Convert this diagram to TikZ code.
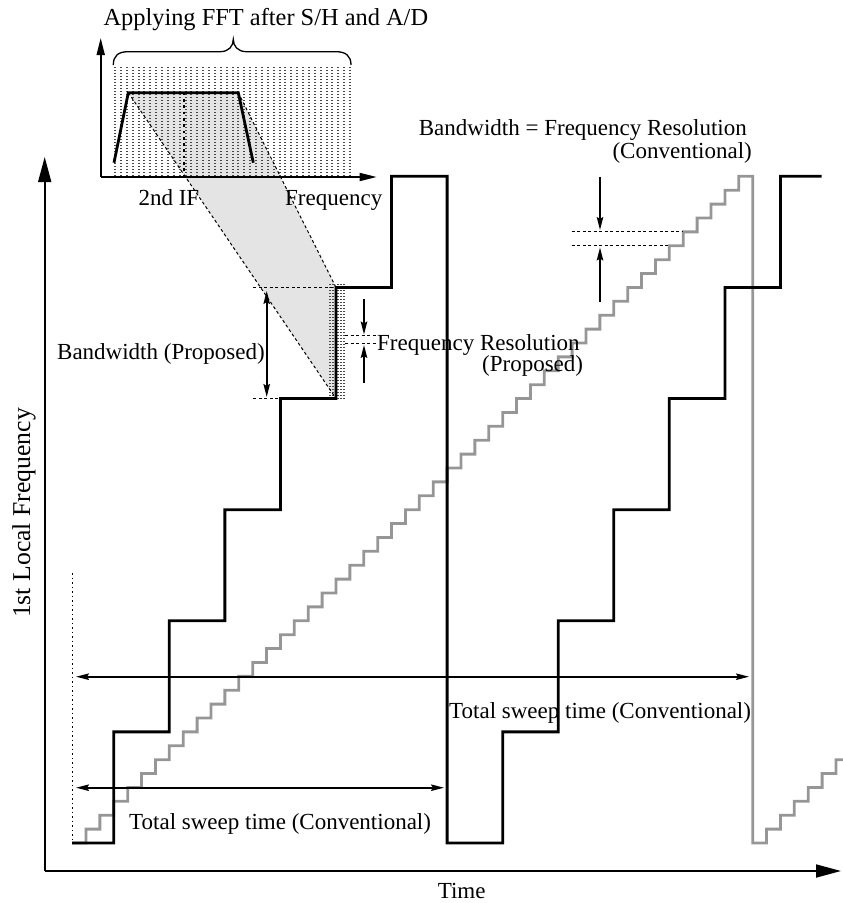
\documentclass[tikz,border=0pt]{standalone}
\usepackage{fontspec}
\setmainfont{Liberation Serif}
\usetikzlibrary{arrows.meta}
\definecolor{stairgray}{RGB}{150,150,150}
\definecolor{shadegray}{RGB}{228,228,228}
\begin{document}
\begin{tikzpicture}[x=1pt,y=-1pt,
  lbl/.style={inner sep=0pt, font=\fontsize{23}{27}\selectfont},
  axisline/.style={line width=1.7pt},
  bigtip/.style={-{Triangle[length=25pt,width=13pt]}},
  smalltip/.style={-{Triangle[length=17pt,width=8pt]}},
  dimline/.style={line width=1.7pt},
  dimtips/.style={{Stealth[length=13pt,width=6.5pt,inset=2pt]}-{Stealth[length=13pt,width=6.5pt,inset=2pt]}},
  dimtip/.style={-{Stealth[length=13pt,width=6.5pt,inset=2pt]}},
  thickstair/.style={line width=2.8pt, line join=miter, black},
  graystair/.style={line width=2.8pt, line join=miter, stairgray},
  finedash/.style={line width=1pt, dash pattern=on 3pt off 2.5pt},
  bindot/.style={draw=black!72, line width=2pt, dash pattern=on 1.4pt off 1.6pt},
]
\useasboundingbox (0,0) rectangle (843,903);
\def\u{13.889}

% shaded projection
\fill[shadegray] (128.3,92.7) -- (238.3,92.7) -- (336,287.44) -- (336,398.56) -- cycle;

% inset dotted FFT bins
\foreach \i in {0,...,40} {
  \draw[bindot] ({115+\i*5.875},67) -- ({115+\i*5.875},177);
}
% dotted bins at the proposed band
\foreach \xx in {330,332.8,338.4,341.2,344} {
  \draw[bindot] (\xx,284) -- (\xx,399);
}

% inset axes
\draw[axisline,smalltip] (100.7,177) -- (100.7,38);
\draw[axisline,smalltip] (100.7,177) -- (376.7,177);

% trapezoid spectrum
\draw[line width=2.8pt, line join=miter] (114,162.7) -- (128.3,92.7) -- (238.3,92.7) -- (253.3,162.7);
\draw[line width=2.8pt, dash pattern=on 2.7pt off 3.6pt] (184,92.7) -- (184,177);

% projection edges
\draw[finedash] (128.3,92.7) -- (336,398.56);
\draw[finedash] (238.3,92.7) -- (336,287.44);

% brace
\draw[line width=1.3pt] (113.3,65) .. controls (113.3,56) and (118,51.7) .. (128,51.7)
  -- (220,51.7) .. controls (229,51.7) and (233.3,46) .. (233.3,39.3)
  .. controls (233.3,46) and (237.6,51.7) .. (246.6,51.7)
  -- (336,51.7) .. controls (346,51.7) and (351,56) .. (351,65);

% main axes
\draw[axisline,bigtip] (44.7,871) -- (44.7,157);
\draw[axisline,bigtip] (44.7,871) -- (841,871);

% dotted start line
\draw[line width=1.5pt, dash pattern=on 1.5pt off 3pt] (72.7,573) -- (72.7,843);

% gray fine staircase
\draw[graystair] (72.1,843)
  foreach \k in {0,...,47} { -- ({86+\k*\u},{843-\k*\u}) -- ({86+\k*\u},{843-(\k+1)*\u}) }
  -- ({86+48*\u},176.33) -- ({86+48*\u},843)
  foreach \k in {1,...,6} { -- ({86+(48+\k)*\u},{843-(\k-1)*\u}) -- ({86+(48+\k)*\u},{843-\k*\u}) }
  -- (843,{843-6*\u});

% black coarse staircase
\draw[thickstair] (72.1,843)
  foreach \j in {0,...,5} { -- ({86+(2+4*\j)*\u},{843-8*\j*\u}) -- ({86+(2+4*\j)*\u},{843-8*(\j+1)*\u}) }
  -- ({86+26*\u},176.33) -- ({86+26*\u},843)
  foreach \j in {0,...,5} { -- ({86+(30+4*\j)*\u},{843-8*\j*\u}) -- ({86+(30+4*\j)*\u},{843-8*(\j+1)*\u}) }
  -- (821.7,176.33);

% proposed bandwidth marks
\draw[finedash] (253.3,287.44) -- (336,287.44);
\draw[finedash] (253.3,398.56) -- (280.4,398.56);
\draw[dimline,dimtips] (266.7,291) -- (266.7,397);

% proposed resolution marks
\draw[finedash] (345,335.7) -- (376,335.7);
\draw[finedash] (345,343.7) -- (376,343.7);
\draw[dimline,dimtip] (364,299.3) -- (364,334.5);
\draw[dimline,dimtip] (364,383.3) -- (364,345);

% conventional resolution marks
\draw[finedash] (571.7,231.9) -- ({86+43*\u},231.9);
\draw[finedash] (571.7,245.8) -- ({86+42*\u},245.8);
\draw[dimline,dimtip] (600,176.7) -- (600,230);
\draw[dimline,dimtip] (600,301.7) -- (600,247.5);

% sweep time arrows
\draw[dimline,dimtips] (76,787.7) -- (444,787.7);
\draw[dimline,dimtips] (76,676.7) -- (749,676.7);

% labels
\node[lbl,anchor=base west,font=\fontsize{24.4}{28}\selectfont] (title) at (103.3,25) {Applying FFT after S/H and A/D};
\node[lbl,anchor=base west] (if2) at (138.3,205) {2nd IF};
\node[lbl,anchor=base west] (freq) at (285,205) {Frequency};
\node[lbl,anchor=base east] (bwc) at (747,135) {Bandwidth = Frequency Resolution};
\node[lbl,anchor=base east] (conv) at (752,158) {(Conventional)};
\node[lbl,anchor=base west] (frp) at (377,350) {Frequency Resolution};
\node[lbl,anchor=base east] (prop) at (583.3,371) {(Proposed)};
\node[lbl,anchor=base east] (bwp) at (265,359.3) {Bandwidth (Proposed)};
\node[lbl,anchor=base west] (tst1) at (129,829.3) {Total sweep time (Conventional)};
\node[lbl,anchor=base west] (tst2) at (449,718.3) {Total sweep time (Conventional)};
\node[lbl,anchor=base] (time) at (461.7,898) {Time};
\node[lbl,rotate=90,font=\fontsize{25.7}{30}\selectfont] (ylab) at (24,513) {1st Local Frequency};
\end{tikzpicture}
\end{document}
